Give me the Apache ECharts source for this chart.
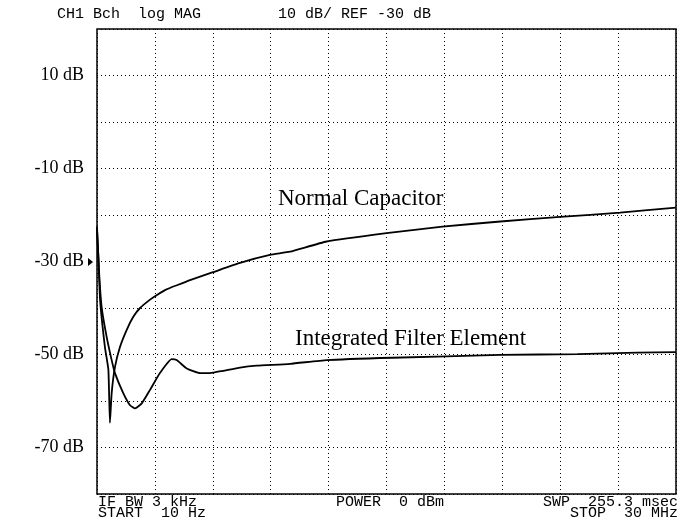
<!DOCTYPE html>
<html>
<head>
<meta charset="utf-8">
<script src="https://cdn.jsdelivr.net/npm/echarts@6/dist/echarts.min.js"></script>
<style>
  html, body { margin: 0; padding: 0; background: #fff; }
  #chart { width: 679px; height: 524px; }
</style>
</head>
<body>
<div id="chart"></div>
<script>
// Sweep axis: 10 Hz .. 30 MHz, linear, 3 MHz per division
const sweepMin = 0;
const sweepMax = 30;
const sweepStep = 3;

// Magnitude axis: 10 dB/div, reference -30 dB
const dbMin = -80;
const dbMax = 20;
const dbStep = 10;
const dbLabelTicks = [10, -10, -30, -50, -70];

// Normal capacitor trace (MHz, dB)
const normalFreq = [0, 0.08, 0.16, 0.41, 0.59, 0.67, 0.76, 0.93, 1.19, 1.54, 1.88, 2.23, 2.75, 3.11, 3.60, 4.14, 4.82, 6.01, 7.41, 8.96, 10.0, 11.9, 15.0, 17.9, 20.9, 24.0, 27.1, 30.0];
const normalDb   = [-23.0, -29.7, -38.3, -48.4, -53.3, -64.7, -58.3, -52.7, -48.4, -44.7, -41.9, -40.0, -38.2, -37.2, -36.0, -35.1, -34.0, -32.3, -30.3, -28.6, -27.9, -25.7, -23.9, -22.5, -21.4, -20.4, -19.5, -18.4];

// Integrated filter element trace (MHz, dB)
const filterFreq = [0, 0.10, 0.24, 0.50, 0.76, 0.93, 1.36, 1.71, 1.97, 2.32, 2.75, 3.26, 3.87, 4.13, 4.65, 5.34, 5.85, 6.53, 7.41, 8.27, 10.0, 11.9, 15.3, 20.9, 24.9, 28.0, 30.0];
const filterDb   = [-22.5, -31.8, -39.8, -46.2, -51.2, -54.0, -58.3, -60.9, -61.6, -60.5, -57.6, -54.0, -51.0, -51.2, -53.0, -54.0, -54.0, -53.5, -52.8, -52.4, -52.0, -51.2, -50.7, -50.1, -49.9, -49.6, -49.5];

// Trace annotations
const normalName = 'Normal Capacitor';
const filterName = 'Integrated Filter Element';

// Instrument status lines
const headerLeft = 'CH1 Bch  log MAG';
const headerScale = '10 dB/ REF -30 dB';
const footerIfbw = 'IF BW 3 kHz';
const footerStart = 'START  10 Hz';
const footerPower = 'POWER  0 dBm';
const footerSweep = 'SWP  255.3 msec';
const footerStop = 'STOP  30 MHz';

const pairs = (xs, ys) => xs.map((x, i) => [x, ys[i]]);

const monoFont = '"Liberation Mono", "DejaVu Sans Mono", monospace';
const serifFont = '"Liberation Serif", "Times New Roman", serif';

const chart = echarts.init(document.getElementById('chart'), null, { renderer: 'canvas' });

const dotted = { color: '#000', width: 1, type: [1, 3] };
const traceStyle = { color: '#000', width: 1.8 };
const statusFont = '15px ' + monoFont;

chart.setOption({
  backgroundColor: '#fff',
  animation: false,
  grid: {
    left: 97, right: 3, top: 29, bottom: 30,
    show: true, borderColor: '#000', borderWidth: 1.5, backgroundColor: 'transparent'
  },
  xAxis: {
    type: 'value', min: sweepMin, max: sweepMax, interval: sweepStep,
    axisLine: { show: false }, axisTick: { show: false }, axisLabel: { show: false },
    splitLine: { show: true, lineStyle: dotted }
  },
  yAxis: {
    type: 'value', min: dbMin, max: dbMax, interval: dbStep,
    axisLine: { show: false }, axisTick: { show: false },
    axisLabel: {
      show: true, margin: 13, color: '#000', fontFamily: serifFont, fontSize: 18,
      formatter: v => dbLabelTicks.includes(v) ? v + ' dB' : ''
    },
    splitLine: { show: true, lineStyle: dotted }
  },
  series: [
    {
      name: normalName, type: 'line', data: pairs(normalFreq, normalDb),
      showSymbol: false, smooth: 0.15, lineStyle: traceStyle
    },
    {
      name: filterName, type: 'line', data: pairs(filterFreq, filterDb),
      showSymbol: false, smooth: 0.15, lineStyle: traceStyle
    }
  ],
  graphic: [
    // reference level marker
    { type: 'polygon', shape: { points: [[88, 258], [93, 262], [88, 266]] }, style: { fill: '#000' } },
    { type: 'text', left: 278, top: 187, style: { text: normalName, font: '23px ' + serifFont, fill: '#000' } },
    { type: 'text', left: 295, top: 327, style: { text: filterName, font: '23px ' + serifFont, fill: '#000' } },
    { type: 'text', left: 57, top: 7, style: { text: headerLeft, font: statusFont, fill: '#000' } },
    { type: 'text', left: 278, top: 7, style: { text: headerScale, font: statusFont, fill: '#000' } },
    { type: 'text', left: 98, top: 495, style: { text: footerIfbw, font: statusFont, fill: '#000' } },
    { type: 'text', left: 98, top: 506, style: { text: footerStart, font: statusFont, fill: '#000' } },
    { type: 'text', left: 336, top: 495, style: { text: footerPower, font: statusFont, fill: '#000' } },
    { type: 'text', right: 1, top: 495, style: { text: footerSweep, font: statusFont, fill: '#000' } },
    { type: 'text', right: 1, top: 506, style: { text: footerStop, font: statusFont, fill: '#000' } }
  ]
});
</script>
</body>
</html>
